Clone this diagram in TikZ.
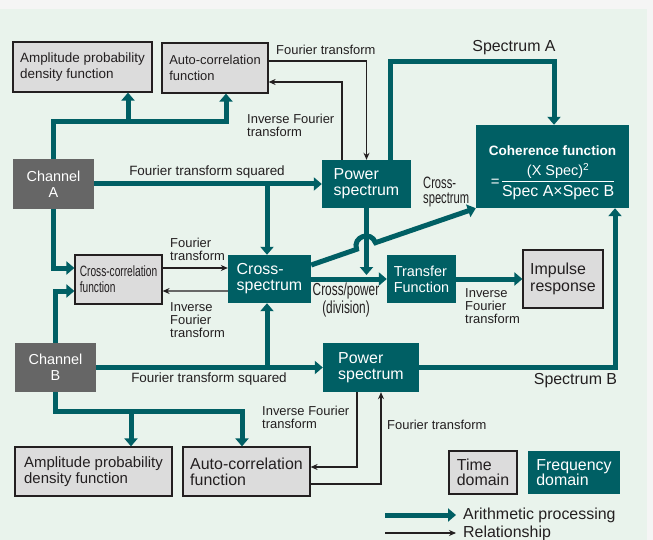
\documentclass[tikz,border=0pt]{standalone}
\usepackage{fontspec}
\setmainfont{Liberation Sans}
\newfontfamily\narrowfont[FakeStretch=0.68]{Liberation Sans}
\usepackage{xcolor}
\usepackage{tikz}
\usetikzlibrary{arrows.meta, calc}

\definecolor{dteal}{RGB}{0,95,100}
\definecolor{boxgray}{RGB}{220,220,220}
\definecolor{ink}{RGB}{35,31,32}
\definecolor{chgray}{RGB}{102,102,102}
\definecolor{panel}{RGB}{233,243,236}
\definecolor{outer}{RGB}{245,245,245}
\newcommand{\fs}[2]{\fontsize{#1}{#2}\selectfont}

\begin{document}
\begin{tikzpicture}[x=1bp, y=-1bp,
  tbox/.style={rectangle, draw=ink, line width=1.2bp, fill=boxgray, text=ink,
               align=left, inner sep=0pt},
  fbox/.style={rectangle, fill=dteal, text=white, align=left, inner sep=0pt},
  chan/.style={rectangle, fill=chgray, text=white, align=center, inner sep=0pt,
               font=\fs{14.5}{16}},
  lbl/.style={inner sep=0pt, align=left, text=ink, font=\fs{13}{13}},
  proc/.style={draw=dteal, line width=5bp, -{Triangle[length=8bp,width=13bp]}},
  rel/.style={draw=ink, line width=1.1bp, -{Stealth[length=7bp,width=6bp]}}
]
% Background
\fill[outer] (0,0) rectangle (653,540);
\fill[panel] (0,9) rectangle (647,540);
\useasboundingbox (0,0) rectangle (653,540);

% Channel A side (top)
\node[tbox, minimum width=139bp, minimum height=50bp, font=\fs{13.5}{16}] at (82.5,67) (ampA) {Amplitude probability\\density function};
\node[tbox, minimum width=106bp, minimum height=50bp, font=\fs{13}{16}] at (215,68) (autoA) {Auto-correlation\\function};
\node[chan, minimum width=81bp, minimum height=50bp] at (53.5,184) (chA) {Channel\\A};
\node[fbox, minimum width=89bp, minimum height=48bp, font=\fs{16}{16}] at (366.5,184) (psA) {Power\\spectrum};
\node[fbox, minimum width=153bp, minimum height=83bp, align=center, font=\fs{15}{17}] at (552.5,166.5) (coh)
  {{\bfseries\fs{13.6}{16}\rule{0pt}{24bp}Coherence function}\\[7bp]
   =\,\begin{tabular}{@{}c@{}}{\fs{14.5}{15}(X Spec)\textsuperscript{2}}\\[0bp]\hline\rule{0pt}{15bp}{\fs{16}{17}Spec A×Spec B}\end{tabular}};

% Middle row
\node[tbox, minimum width=87bp, minimum height=49bp, font=\narrowfont\fs{15}{16}] at (118.5,279.5) (xcorr) {Cross-correlation\\function};
\node[fbox, minimum width=83bp, minimum height=48bp, font=\fs{16}{16}] at (269.5,279) (xspec) {Cross-\\spectrum};
\node[fbox, minimum width=69bp, minimum height=48bp, font=\fs{14.5}{16}] at (421.5,279) (tf) {Transfer\\Function};
\node[tbox, minimum width=80bp, minimum height=58bp, font=\fs{16}{17}] at (563,279) (imp) {Impulse\\response};

% Channel B side (bottom)
\node[chan, minimum width=81bp, minimum height=49bp] at (55.5,367.5) (chB) {Channel\\B};
\node[fbox, minimum width=96bp, minimum height=49bp, font=\fs{16}{16}] at (371,367.5) (psB) {Power\\spectrum};
\node[tbox, minimum width=157bp, minimum height=49bp, font=\fs{15}{16}] at (93.5,471.5) (ampB) {Amplitude probability\\density function};
\node[tbox, minimum width=127bp, minimum height=49bp, font=\fs{16}{16}] at (246.5,471.5) (autoB) {Auto-correlation\\function};

% Legend boxes
\node[tbox, minimum width=68bp, minimum height=43bp, font=\fs{16}{15}] at (483,472.5) (timekey) {Time\\domain};
\node[fbox, minimum width=92bp, minimum height=43bp, font=\fs{16}{15}] at (574,472.5) (freqkey) {Frequency\\domain};

% Arithmetic processing (thick)
\coordinate (busA) at (128,121);
\coordinate (tapA) at (267,184);
\coordinate (tapB) at (267,367.5);
\coordinate (busB) at (131,412);
\coordinate (drop) at (366.5,275);
\coordinate (hopL) at (356.6,249.3);
\coordinate (hopR) at (375.5,242.7);
\draw[proc] (chA.north) |- ($(autoA.south)+(11,28)$) -- ($(autoA.south)+(11,0)$);
\draw[proc] (busA) -- (busA |- ampA.south);
\draw[proc] (chA.east) -- (psA.west);
\draw[proc] (tapA) -- (tapA |- xspec.north);
\draw[proc] (chA.south) |- ($(xcorr.west)+(0,-11.5)$);
\draw[proc] (chB.north) |- ($(xcorr.west)+(0,11.5)$);
\draw[proc] (chB.east) -- (psB.west);
\draw[proc] (tapB) -- (tapB |- xspec.south);
\draw[proc] (chB.south) |- ($(autoB.north)+(-4.5,-35)$) -- ($(autoB.north)+(-4.5,0)$);
\draw[proc] (busB) -- (busB |- ampB.north);
\draw[proc] ($(psA.north)+(23.5,0)$) |- ($(coh.north)+(1.5,-63)$) -- ($(coh.north)+(1.5,0)$);
\draw[proc] (psA.south) -- (drop);
\draw[proc] ($(xspec.east)+(0,-14)$) -- (hopL) .. controls (352.2,236.7) and (371.1,230.2) .. (hopR) -- (coh.south west);
\draw[proc] (xspec.east) -- (tf.west);
\draw[proc] (tf.east) -- (imp.west);
\draw[proc] (psB.east) -| ($(coh.south)+(62.5,0)$);

% Relationship (thin)
\draw[rel] ($(autoA.east)+(0,-7)$) -| (psA.north);
\draw[rel] ($(psA.north)+(-24.5,0)$) |- ($(autoA.east)+(0,14)$);
\draw[rel] ($(xcorr.east)+(0,-11.5)$) -- ($(xspec.west)+(0,-11)$);
\draw[rel] ($(xspec.west)+(0,12)$) -- ($(xcorr.east)+(0,11.5)$);
\draw[rel] ($(psB.south)+(-14,0)$) |- ($(autoB.east)+(0,-4.5)$);
\draw[rel] ($(autoB.east)+(0,12.5)$) -| ($(psB.south)+(10,0)$);

% Labels
\node[lbl, anchor=west] at (276,50) (lftA) {Fourier transform};
\node[lbl, anchor=west] at (247,125) (lifA) {Inverse Fourier\\transform};
\node[lbl, font=\fs{13.5}{14}] at (207,172) (lsqA) {Fourier transform squared};
\node[lbl, font=\fs{16}{16}] at (514,48) (lspA) {Spectrum A};
\node[lbl, anchor=west, font=\narrowfont\fs{16.5}{15}] at (423,192) (lcross) {Cross-\\spectrum};
\node[lbl, anchor=west] at (170,249.5) (lftX) {Fourier\\transform};
\node[lbl, anchor=west] at (170,320) (lifX) {Inverse\\Fourier\\transform};
\node[lbl, align=center, font=\narrowfont\fs{17.5}{14}] at (346,300) (ldiv) {Cross/power\\(division)};
\node[lbl, anchor=west] at (465,306) (lifT) {Inverse\\Fourier\\transform};
\node[lbl, font=\fs{13.5}{14}] at (209,379) (lsqB) {Fourier transform squared};
\node[lbl, font=\fs{16}{16}] at (575.5,381) (lspB) {Spectrum B};
\node[lbl, anchor=west] at (262,417.5) (lifB) {Inverse Fourier\\transform};
\node[lbl, anchor=west] at (387,425) (lftB) {Fourier transform};

% Legend arrows
\coordinate (keyA) at (385,515);
\coordinate (keyB) at (385,533);
\draw[proc] (keyA) -- ++(71,0);
\draw[rel] (keyB) -- ++(71,0);
\node[lbl, anchor=west, font=\fs{16}{16}] at (463,515) (lproc) {Arithmetic processing};
\node[lbl, anchor=west, font=\fs{16}{16}] at (463,533) (lrel) {Relationship};
\end{tikzpicture}
\end{document}
